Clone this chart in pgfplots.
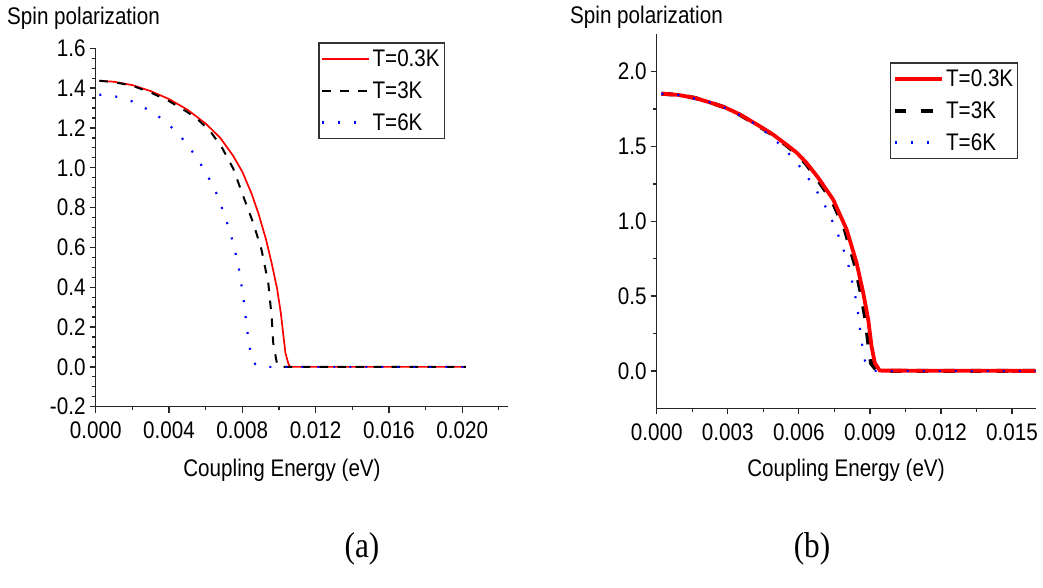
\documentclass[border=0pt]{standalone}
\usepackage{pgfplots}
\pgfplotsset{compat=1.18}
\usepackage{fontspec}
\setmainfont{Liberation Sans}[FakeStretch=0.86]
\newfontfamily\panelfont{Liberation Serif}[FakeStretch=0.87]
\definecolor{pred}{RGB}{255,0,0}
\definecolor{pblue}{RGB}{0,0,255}
\newcommand\tfont{\fontsize{24}{28}\selectfont}
\begin{document}
\begin{tikzpicture}[x=1pt,y=1pt]
\useasboundingbox (0,0) rectangle (1043,588);
\pgfplotsset{
  myaxis/.style={
    scale only axis,
    axis lines=left,
    axis line style={black!85, line width=1.3pt, -},
    every tick/.style={black!85, line width=1.3pt},
    tick align=outside,
    major tick length=6pt, minor tick length=3.5pt,
    scaled x ticks=false, scaled y ticks=false,
    tick label style={font=\tfont, inner sep=0pt},
    xticklabel style={anchor=north, yshift=-9pt},
    yticklabel style={anchor=east, xshift=-4pt},
    legend cell align=left,
    legend image code/.code={\draw[##1] (0pt,0pt) -- (47pt,0pt);},
    legend style={draw=black!80, line width=1.2pt, fill=white, font=\tfont,
      inner xsep=2pt, inner ysep=7pt, row sep=13.5pt, column sep=0pt,
      nodes={inner xsep=2.5pt, inner ysep=0pt}, anchor=north west},
  },
  redA/.style={color=pred, line width=1.7pt, solid},
  blackA/.style={color=black, line width=2pt, dash pattern=on 8.5pt off 9.5pt},
  blueA/.style={color=pblue, line width=2.2pt, dash pattern=on 2pt off 14pt},
  redB/.style={color=pred, line width=3.8pt, solid},
  blackB/.style={color=black, line width=4pt, dash pattern=on 11.7pt off 15pt},
  blueB/.style={color=pblue, line width=2.2pt, dash pattern=on 2pt off 14pt},
}
% ---------------- panel (a)
\begin{axis}[myaxis,
  at={(95.7pt,181.3pt)}, anchor=south west,
  width=412.3pt, height=358.4pt,
  xmin=0, xmax=0.0225, ymin=-0.2, ymax=1.6,
  xtick={0,0.004,0.008,0.012,0.016,0.020},
  xticklabels={0.000,0.004,0.008,0.012,0.016,0.020},
  minor xtick={0.002,0.006,0.010,0.014,0.018,0.022},
  ytick={-0.2,0,0.2,0.4,0.6,0.8,1.0,1.2,1.4,1.6},
  yticklabels={-0.2,0.0,0.2,0.4,0.6,0.8,1.0,1.2,1.4,1.6},
  minor y tick num=3,
  legend style={at={(0.5399,1.0167)}},
]
\addplot[redA] coordinates {
(0.0002,1.437) (0.0010,1.432) (0.0020,1.415) (0.0030,1.385) (0.0040,1.345)
(0.0050,1.292) (0.0060,1.222) (0.0068,1.150) (0.0075,1.060) (0.0080,0.980)
(0.0085,0.872) (0.0089,0.765) (0.0093,0.638) (0.0096,0.522) (0.0099,0.392)
(0.0101,0.272) (0.01025,0.152) (0.01035,0.072) (0.0105,0.020) (0.0106,0.0)
(0.0202,0.0)};
\addlegendentry{T=0.3K}
\addplot[blackA] coordinates {
(0.0002,1.437) (0.0010,1.430) (0.0020,1.412) (0.0030,1.378) (0.0040,1.335)
(0.0050,1.280) (0.0056,1.240) (0.00624,1.185) (0.0069,1.100) (0.00751,0.995)
(0.00796,0.880) (0.0086,0.722) (0.00905,0.588) (0.00942,0.420) (0.0096,0.253)
(0.00969,0.119) (0.00987,0.027) (0.0100,0.0) (0.0202,0.0)};
\addlegendentry{T=3K}
\addplot[blueA] coordinates {
(0.0002,1.367) (0.00109,1.358) (0.0020,1.333) (0.00287,1.291) (0.00378,1.236)
(0.00464,1.157) (0.00543,1.062) (0.00607,0.968) (0.00658,0.873) (0.00698,0.775)
(0.00733,0.680) (0.0076,0.584) (0.00782,0.491) (0.00798,0.395) (0.00813,0.298)
(0.00824,0.202) (0.00838,0.106) (0.00855,0.040) (0.00871,0.014) (0.0090,0.0)
(0.0202,0.0)};
\addlegendentry{T=6K}
\end{axis}
% ---------------- panel (b)
\begin{axis}[myaxis,
  at={(656.7pt,179.7pt)}, anchor=south west,
  width=379pt, height=374pt,
  xmin=0, xmax=0.016, ymin=-0.25, ymax=2.25,
  xtick={0,0.003,0.006,0.009,0.012,0.015},
  xticklabels={0.000,0.003,0.006,0.009,0.012,0.015},
  minor xtick={0.0015,0.0045,0.0075,0.0105,0.0135},
  ytick={0,0.5,1.0,1.5,2.0},
  yticklabels={0.0,0.5,1.0,1.5,2.0},
  minor ytick={0.25,0.75,1.25,1.75},
  legend style={at={(0.6156,0.9251)}},
]
\addlegendimage{redB}
\addlegendentry{T=0.3K}
\addlegendimage{blackB}
\addlegendentry{T=3K}
\addlegendimage{blueB}
\addlegendentry{T=6K}
\addplot[blackB, forget plot] coordinates {
(0.0002,1.853) (0.0009,1.845) (0.0016,1.825) (0.0022,1.797) (0.0029,1.760)
(0.0035,1.713) (0.0042,1.648) (0.0049,1.578) (0.0055,1.505) (0.0059,1.452)
(0.0063,1.385) (0.0067,1.300) (0.0074,1.140) (0.00795,0.940) (0.00835,0.720)
(0.00862,0.520) (0.00882,0.340) (0.00895,0.160) (0.00905,0.050) (0.0093,0.0)
(0.016,0.0)};
\addplot[redB, forget plot] coordinates {
(0.0002,1.853) (0.0009,1.845) (0.0016,1.825) (0.0022,1.797) (0.0029,1.760)
(0.0035,1.715) (0.0042,1.650) (0.0049,1.581) (0.0055,1.510) (0.0059,1.460)
(0.0063,1.395) (0.0068,1.295) (0.00745,1.145) (0.00802,0.944) (0.00844,0.721)
(0.00872,0.520) (0.00893,0.342) (0.00907,0.163) (0.00921,0.052) (0.00942,0.002)
(0.016,0.0)};
\addplot[blueB, forget plot] coordinates {
(0.0002,1.853) (0.00089,1.844) (0.00155,1.822) (0.00221,1.797) (0.00285,1.760)
(0.00351,1.710) (0.00418,1.648) (0.00482,1.569) (0.00546,1.474) (0.00612,1.351)
(0.00668,1.224) (0.00713,1.096) (0.00752,0.967) (0.00783,0.839) (0.00808,0.715)
(0.00827,0.583) (0.00844,0.457) (0.00855,0.326) (0.00865,0.196) (0.00879,0.069)
(0.0091,0.0) (0.016,0.0)};
\end{axis}
% ---------------- texts
\node[font=\tfont, anchor=base west, inner sep=0pt] at (7,563) {Spin polarization};
\node[font=\tfont, anchor=base west, inner sep=0pt] at (570,564) {Spin polarization};
\node[font=\tfont, anchor=base, inner sep=0pt] at (282,111) {Coupling Energy (eV)};
\node[font=\tfont, anchor=base, inner sep=0pt] at (846,111) {Coupling Energy (eV)};
\node[font={\panelfont\fontsize{36}{40}\selectfont}, inner sep=0pt] at (362,39) {(a)};
\node[font={\panelfont\fontsize{36}{40}\selectfont}, inner sep=0pt] at (812,39) {(b)};
\end{tikzpicture}
\end{document}
